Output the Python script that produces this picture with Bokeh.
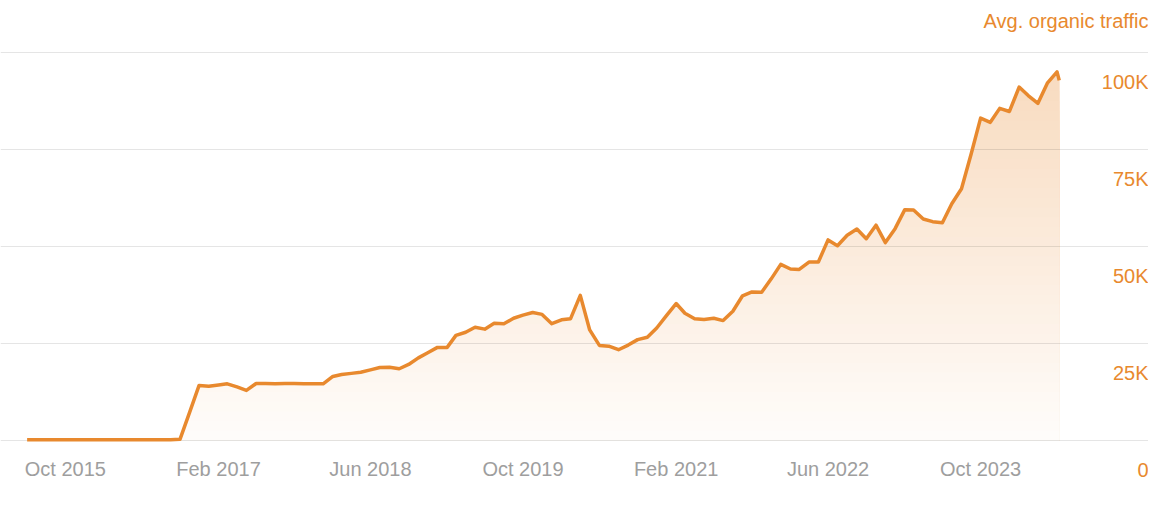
import numpy as np
import pandas as pd
from bokeh.plotting import figure
from bokeh.models import Label, FixedTicker, Range1d, DatetimeTickFormatter
from bokeh.embed import file_html
from bokeh.resources import INLINE

# ---------------- data ----------------
traffic_k = [
    0.2, 0.2, 0.2, 0.2, 0.2, 0.2, 0.2, 0.2, 0.2, 0.2, 0.2, 0.2, 0.2, 0.2, 0.2, 0.2, 0.3,   # Jun 2015 - Oct 2016
    7.3, 14.2, 14.0, 14.3, 14.6, 13.8, 12.9,                                              # Nov 2016 - May 2017
    14.7, 14.7, 14.6, 14.7, 14.7, 14.6, 14.6, 14.6,                                       # Jun 2017 - Jan 2018
    16.5, 17.0, 17.3, 17.6, 18.2, 18.8, 18.9, 18.5, 19.6, 21.3, 22.6, 24.0,               # Feb 2018 - Jan 2019
    24.0, 27.1, 27.9, 29.2, 28.7, 30.2, 30.1, 31.5, 32.3, 33.0, 32.5, 30.1,               # Feb 2019 - Jan 2020
    31.1, 31.4, 37.4, 28.5, 24.5, 24.3, 23.4, 24.6, 26.0, 26.6, 29.0, 32.2,               # Feb 2020 - Jan 2021
    35.3, 32.8, 31.4, 31.2, 31.5, 30.9, 33.3, 37.3, 38.3, 38.2, 41.6, 45.4,               # Feb 2021 - Jan 2022
    44.2, 44.1, 46.0, 46.0, 51.7, 50.2, 52.9, 54.5, 52.0, 55.5, 51.0, 54.6,               # Feb 2022 - Jan 2023
    59.5, 59.4, 57.1, 56.4, 56.1, 61.0, 64.9, 73.9, 83.1, 82.0, 85.6, 84.8,               # Feb 2023 - Jan 2024
    91.1, 88.9, 86.9, 92.1, 95.0,                                                         # Feb 2024 - Jun 2024
    92.8,                                                                                 # latest (Jun 8 2024)
]
dates = list(pd.date_range("2015-06-01", periods=109, freq="MS")) + [pd.Timestamp("2024-06-08")]

x_tick_dates = ["2015-10-01", "2017-02-01", "2018-06-01", "2019-10-01", "2021-02-01", "2022-06-01", "2023-10-01"]
x_tick_labels = ["Oct 2015", "Feb 2017", "Jun 2018", "Oct 2019", "Feb 2021", "Jun 2022", "Oct 2023"]
y_ticks = [0, 25000, 50000, 75000, 100000]
y_tick_labels = ["0", "25K", "50K", "75K", "100K"]
title_text = "Avg. organic traffic"

# ---------------- layout / styling ----------------
ORANGE = "#E8892E"
FONT = "Liberation Sans"
W, H = 1148, 493          # plot size (frame fills it)
Y0_PX, Y100_PX = 440, 52  # pixel rows of 0 and 100K
TITLE_PX = 20             # pixel row of the axis name
PX_PER_UNIT = (Y0_PX - Y100_PX) / 100000.0
y_end = 100000 + Y100_PX / PX_PER_UNIT
y_start = -(H - Y0_PX) / PX_PER_UNIT

values = np.array(traffic_k) * 1000.0
xs_ms = np.array([d.value // 10**6 for d in dates], dtype=float)

p = figure(
    x_axis_type="datetime",
    y_axis_location=None,
    frame_width=W, frame_height=H,
    min_border_left=0, min_border_right=0, min_border_top=0, min_border_bottom=0,
    x_range=Range1d(pd.Timestamp("2015-03-08"), pd.Timestamp("2025-03-20")),
    y_range=Range1d(y_start, y_end),
    output_backend="svg", toolbar_location=None,
    background_fill_color="white", border_fill_color="white",
)
p.outline_line_color = None

# gradient area: nested bands coloured by height
dense_x = np.linspace(xs_ms[0], xs_ms[-1], 3000)
dense_v = np.interp(dense_x, xs_ms, values)
levels = np.linspace(100000, 2500, 40)
for top in levels:
    a = 0.02 + 0.30 * (top - 1250) / 100000.0
    r = int(round(255 * (1 - a) + 232 * a))
    g = int(round(255 * (1 - a) + 137 * a))
    b = int(round(255 * (1 - a) + 46 * a))
    p.varea(x=dense_x, y1=np.zeros_like(dense_x), y2=np.minimum(dense_v, top),
            fill_color=(r, g, b), fill_alpha=1.0, level="underlay")

# grid
p.xgrid.visible = False
p.ygrid.ticker = FixedTicker(ticks=y_ticks)
p.ygrid.grid_line_color = "black"
p.ygrid.grid_line_alpha = 0.1
p.ygrid.grid_line_width = 1
p.ygrid.level = "glyph"

# line
p.line(x=xs_ms, y=values, line_color=ORANGE, line_width=3.5, line_join="round", level="annotation")

# x axis (labels pulled up to sit just under the zero line)
x_ticks_ms = [float(pd.Timestamp(d).value // 10**6) for d in x_tick_dates]
p.xaxis.ticker = FixedTicker(ticks=x_ticks_ms)
p.xaxis.formatter = DatetimeTickFormatter(months="%b %Y", years="%b %Y", days="%b %Y")
p.xaxis.major_label_overrides = {t: lab for t, lab in zip(x_ticks_ms, x_tick_labels)}
p.xaxis.axis_line_color = None
p.xaxis.major_tick_line_color = None
p.xaxis.minor_tick_line_color = None
p.xaxis.major_tick_out = 0
p.xaxis.major_tick_in = 0
p.xaxis.minor_tick_out = 0
p.xaxis.major_label_standoff = -36
p.xaxis.major_label_text_font = FONT
p.xaxis.major_label_text_font_size = "20px"
p.xaxis.major_label_text_color = "#9E9E9E"

# y labels (right side, below each grid line)
for v, lab in zip(y_ticks, y_tick_labels):
    p.add_layout(Label(x=W, x_units="screen", y=v, y_units="data", text=lab,
                       text_align="right", text_baseline="middle", y_offset=-29,
                       text_font=FONT, text_font_size="20px", text_color=ORANGE))

# axis name, top right
p.add_layout(Label(x=W, x_units="screen", y=100000 + (Y100_PX - TITLE_PX) / PX_PER_UNIT, y_units="data",
                   text=title_text, text_align="right", text_baseline="middle",
                   text_font=FONT, text_font_size="20px", text_color=ORANGE))

open("out.html", "w").write(file_html(p, INLINE))
